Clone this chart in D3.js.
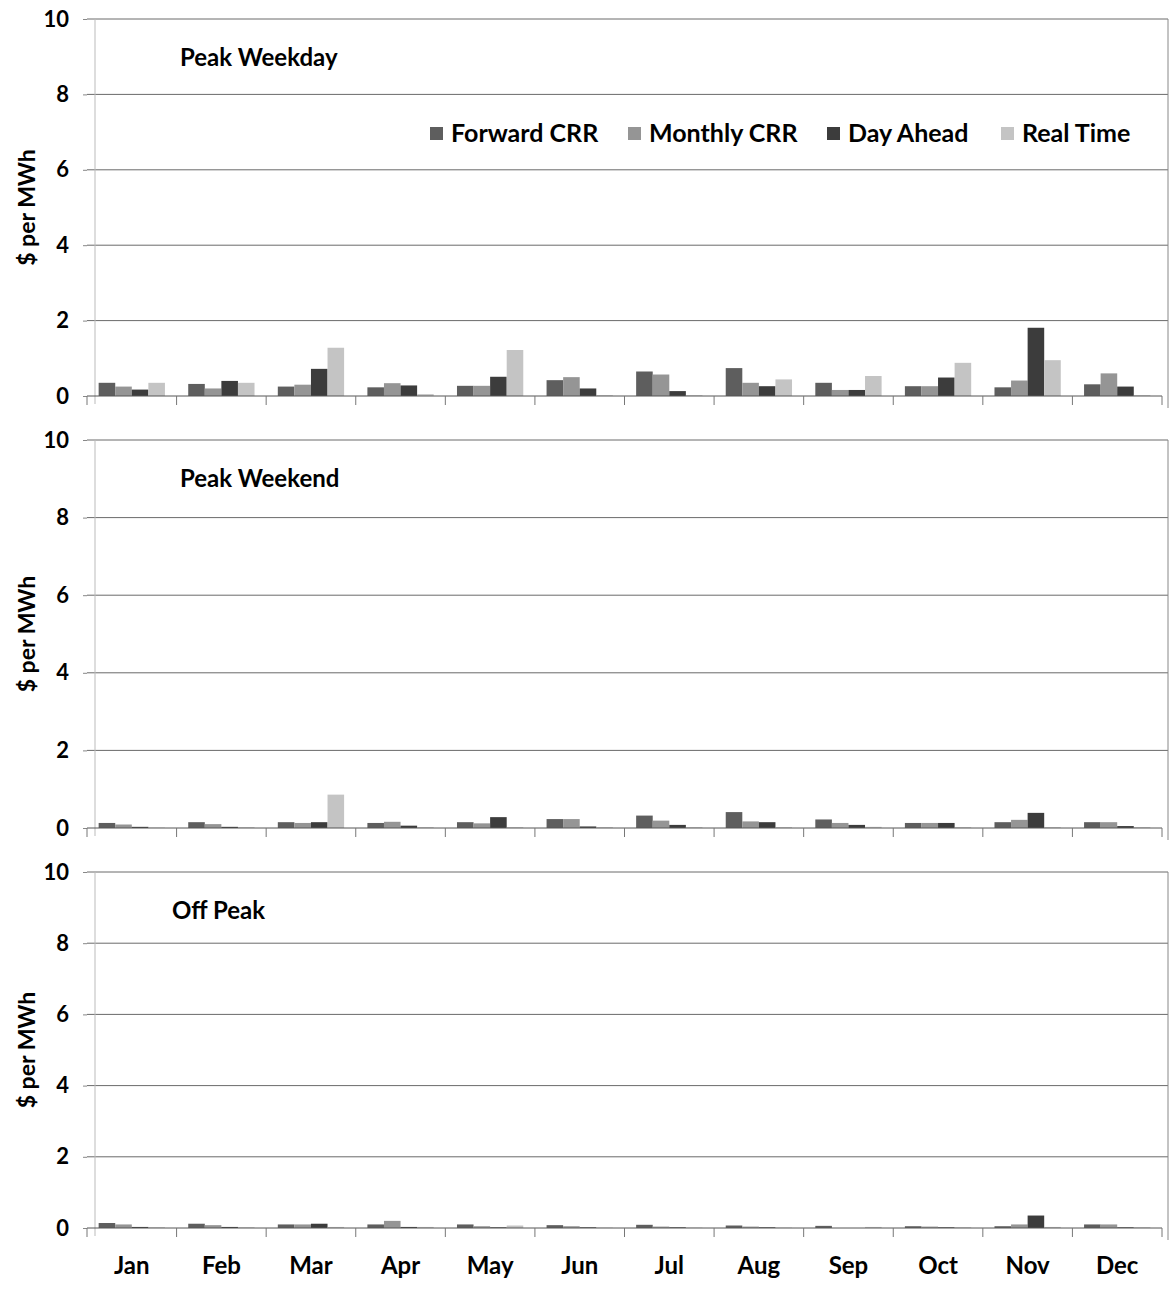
<!DOCTYPE html>
<html><head><meta charset="utf-8">
<script src="https://cdn.jsdelivr.net/npm/d3@7"></script>
<style>
body{margin:0;background:#fff;}
text{font-family:Lato,"Open Sans",sans-serif;font-weight:bold;fill:#000;}
</style></head>
<body><svg id="c" width="1170" height="1289"></svg>
<script>
const months = ["Jan","Feb","Mar","Apr","May","Jun","Jul","Aug","Sep","Oct","Nov","Dec"];
const seriesNames = ["Forward CRR","Monthly CRR","Day Ahead","Real Time"];
const yTicks = [0,2,4,6,8,10];
const panelTitles = ["Peak Weekday","Peak Weekend","Off Peak"];

// Peak Weekday
const weekdayForward = [0.35,0.32,0.25,0.23,0.27,0.42,0.65,0.74,0.35,0.26,0.23,0.31];
const weekdayMonthly = [0.25,0.20,0.30,0.34,0.27,0.50,0.57,0.35,0.16,0.26,0.41,0.60];
const weekdayDayAhead = [0.17,0.40,0.72,0.28,0.51,0.20,0.13,0.26,0.16,0.49,1.81,0.25];
const weekdayRealTime = [0.35,0.35,1.28,0.05,1.22,0.02,0.02,0.44,0.53,0.88,0.95,0.02];
// Peak Weekend
const weekendForward = [0.13,0.15,0.15,0.13,0.15,0.23,0.32,0.41,0.22,0.13,0.15,0.15];
const weekendMonthly = [0.09,0.10,0.13,0.16,0.12,0.23,0.19,0.17,0.13,0.13,0.21,0.15];
const weekendDayAhead = [0.03,0.03,0.15,0.06,0.28,0.04,0.08,0.15,0.08,0.13,0.39,0.05];
const weekendRealTime = [0.01,0.02,0.86,0.02,0.02,0.02,0.02,0.02,0.03,0.02,0.02,0.02];
// Off Peak
const offForward = [0.14,0.12,0.10,0.10,0.10,0.08,0.09,0.07,0.06,0.05,0.05,0.10];
const offMonthly = [0.10,0.08,0.10,0.20,0.05,0.05,0.04,0.04,0.00,0.04,0.10,0.10];
const offDayAhead = [0.03,0.03,0.12,0.03,0.02,0.02,0.02,0.02,0.00,0.02,0.35,0.02];
const offRealTime = [0.02,0.02,0.03,0.03,0.07,0.01,0.01,0.01,0.03,0.02,0.03,0.02];

const panelData = [
  [weekdayForward, weekdayMonthly, weekdayDayAhead, weekdayRealTime],
  [weekendForward, weekendMonthly, weekendDayAhead, weekendRealTime],
  [offForward, offMonthly, offDayAhead, offRealTime]
];
const colors = ["#5e5e5e","#959595","#3c3c3c","#c4c4c4"];

const svg = d3.select("#c");
const xLeft = 87, xRight = 1162;
const panels = [{top:19,bottom:396},{top:440,bottom:828},{top:872,bottom:1228}];

const x0 = d3.scaleBand().domain(months).range([xLeft,xRight]).paddingInner(0.26).paddingOuter(0.13);
const x1 = d3.scaleBand().domain(seriesNames).range([0,x0.bandwidth()]);

panels.forEach((p,pi)=>{
  const y = d3.scaleLinear().domain([0,10]).range([p.bottom,p.top]);
  const g = svg.append("g");
  // gridlines
  g.selectAll(".grid").data(yTicks.filter(t=>t>0)).join("line")
    .attr("x1",xLeft).attr("x2",xRight+6)
    .attr("y1",d=>y(d)).attr("y2",d=>y(d))
    .attr("stroke","#6a6a6a").attr("stroke-width",1);
  // side borders
  g.append("line").attr("x1",xRight+6).attr("x2",xRight+6).attr("y1",p.top).attr("y2",p.bottom+12)
    .attr("stroke","#888").attr("stroke-width",1);
  g.append("line").attr("x1",xLeft+8).attr("x2",xLeft+8).attr("y1",p.top).attr("y2",p.bottom+8)
    .attr("stroke","#bbb").attr("stroke-width",1);
  // y axis labels
  const ya = g.append("g").attr("transform",`translate(${xLeft},0)`)
    .call(d3.axisLeft(y).tickValues(yTicks).tickSize(4).tickPadding(14));
  ya.select(".domain").remove();
  ya.selectAll("line").attr("stroke","#888");
  ya.selectAll("text").style("font-size","22px").style("font-family","Lato,sans-serif").style("font-weight","bold");
  // bars
  const groups = g.selectAll(".m").data(months).join("g")
    .attr("transform",d=>`translate(${x0(d)},0)`);
  groups.selectAll("rect").data((m,i)=>seriesNames.map((s,si)=>({s,v:panelData[pi][si][i],si})))
    .join("rect")
    .attr("x",d=>x1(d.s)).attr("width",x1.bandwidth())
    .attr("y",d=>y(d.v)).attr("height",d=>y(0)-y(d.v))
    .attr("fill",d=>colors[d.si]);
  // x axis baseline with boundary ticks
  const xa = g.append("g").attr("transform",`translate(0,${y(0)})`);
  xa.append("line").attr("x1",xLeft).attr("x2",xRight).attr("stroke","#555");
  const bounds = months.map(m=>x0(m)-x0.step()*x0.paddingInner()/2).concat([xRight]);
  xa.selectAll(".tk").data(bounds).join("line")
    .attr("x1",d=>d).attr("x2",d=>d).attr("y1",0).attr("y2",9).attr("stroke","#777");
  // title
  g.append("text").attr("x",pi===2?172:180).attr("y",p.top+47).style("font-size","24px").text(panelTitles[pi]);
  // y label
  g.append("text").attr("transform",`translate(35,${(p.top+p.bottom)/2}) rotate(-90)`)
    .attr("text-anchor","middle").style("font-size","23px").text("$ per MWh");
});

// month labels
svg.append("g").selectAll("text").data(months).join("text")
  .attr("x",d=>x0(d)+x0.bandwidth()/2).attr("y",1274)
  .attr("text-anchor","middle").style("font-size","24px").text(d=>d);

// legend
const legX = [430,628,827,1001];
const leg = svg.append("g");
seriesNames.forEach((s,i)=>{
  leg.append("rect").attr("x",legX[i]).attr("y",127).attr("width",13).attr("height",13).attr("fill",colors[i]);
  leg.append("text").attr("x",legX[i]+21).attr("y",142).style("font-size","25px").text(s);
});
</script></body></html>
